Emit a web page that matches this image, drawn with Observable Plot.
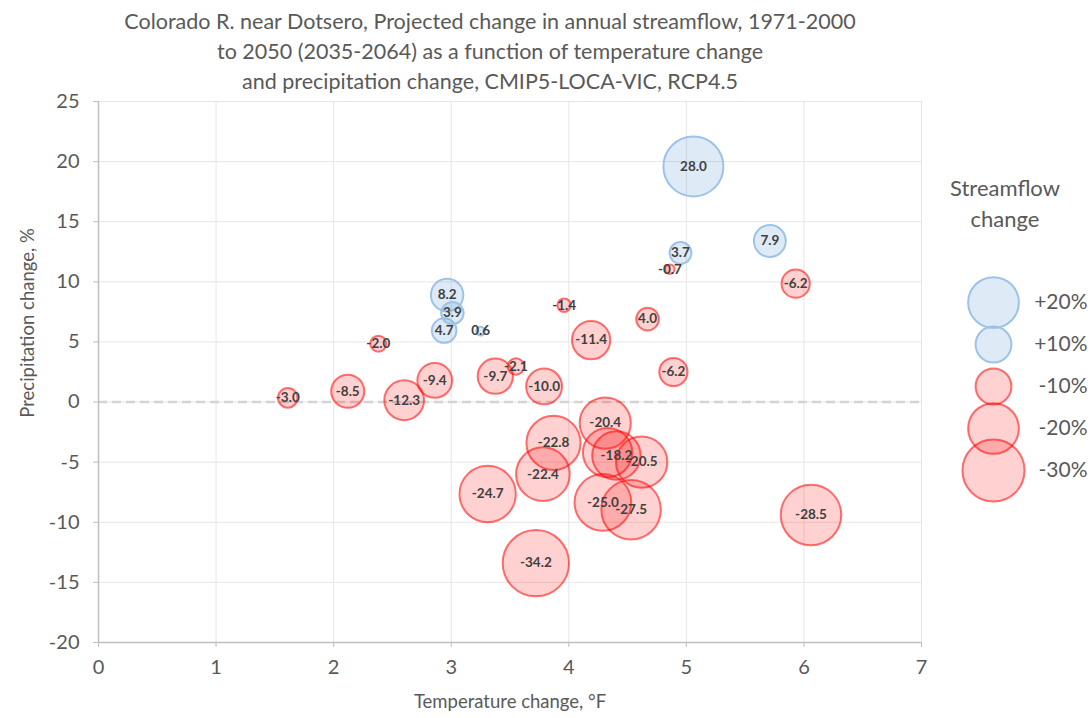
<!DOCTYPE html>
<html>
<head>
<meta charset="utf-8">
<script src="https://cdn.jsdelivr.net/npm/d3@7"></script>
<script src="https://cdn.jsdelivr.net/npm/@observablehq/plot@0.6"></script>
<style>
  html, body { margin: 0; padding: 0; background: #fff; }
  #wrap { position: relative; width: 1091px; height: 718px; font-family: Lato, "Open Sans", sans-serif; color: #595959; overflow: hidden; }
  #title { position: absolute; left: 0; top: 6px; width: 980px; text-align: center; font-size: 21.5px; line-height: 30px; }
  #chart { position: absolute; left: 0; top: 70px; }
  #ylabel { position: absolute; left: -123px; top: 311px; width: 300px; height: 24px; line-height: 24px; text-align: center; font-size: 18.5px; transform: rotate(-90deg); }
  #legtitle { position: absolute; left: 925px; top: 172px; width: 160px; text-align: center; font-size: 22px; line-height: 31px; }
  #legend { position: absolute; left: 930px; top: 230px; }
</style>
</head>
<body>
<div id="wrap">
  <div id="title">Colorado R. near Dotsero, Projected change in annual streamflow, 1971-2000<br>to 2050 (2035-2064) as a function of temperature change<br>and precipitation change, CMIP5-LOCA-VIC, RCP4.5</div>
  <div id="chart"></div>
  <div id="ylabel">Precipitation change, %</div>
  <div id="legtitle">Streamflow<br>change</div>
  <div id="legend"></div>
</div>
<script>
// Temperature change (°F)
const tempChange = [5.06, 5.71, 4.95, 4.86, 5.93, 2.965, 3.01, 2.94, 3.25, 2.38, 3.96, 4.19, 4.67, 3.55, 3.375, 3.79, 2.86, 2.60, 2.12, 1.61, 4.89, 4.31, 3.87, 4.33, 4.405, 4.62, 3.78, 3.31, 4.29, 4.53, 3.72, 6.06];
// Precipitation change (%)
const precipChange = [19.6, 13.4, 12.4, 11.05, 9.85, 8.9, 7.4, 5.95, 5.9, 4.85, 8.05, 5.15, 6.9, 2.95, 2.15, 1.3, 1.8, 0.15, 0.9, 0.35, 2.5, -1.75, -3.4, -4.2, -4.45, -5.0, -6.0, -7.65, -8.35, -8.95, -13.4, -9.4];
// Streamflow change (%)
const flowChange = [28.0, 7.9, 3.7, -0.7, -6.2, 8.2, 3.9, 4.7, 0.6, -2.0, -1.4, -11.4, -4.0, -2.1, -9.7, -10.0, -9.4, -12.3, -8.5, -3.0, -6.2, -20.4, -22.8, -18.9, -18.2, -20.5, -22.4, -24.7, -25.0, -27.5, -34.2, -28.5];
// Bubble labels as shown
const flowLabels = ["28.0", "7.9", "3.7", "-0.7", "-6.2", "8.2", "3.9", "4.7", "0.6", "-2.0", "-1.4", "-11.4", "4.0", "-2.1", "-9.7", "-10.0", "-9.4", "-12.3", "-8.5", "-3.0", "-6.2", "-20.4", "-22.8", "", "-18.2", "-20.5", "-22.4", "-24.7", "-25.0", "-27.5", "-34.2", "-28.5"];

const xTicks = [0, 1, 2, 3, 4, 5, 6, 7];
const yTicks = [-20, -15, -10, -5, 0, 5, 10, 15, 20, 25];

const legendValues = [20, 10, -10, -20, -30];
const legendLabels = ["+20%", "+10%", "-10%", "-20%", "-30%"];

const data = tempChange.map((t, i) => ({t, p: precipChange[i], s: flowChange[i], label: flowLabels[i], a: Math.abs(flowChange[i])}));
const pos = data.filter(d => d.s > 0);
const neg = data.filter(d => d.s <= 0);

const rScale = {type: "sqrt", domain: [0, 28], range: [0, 30]};
const font = "Lato, 'Open Sans', sans-serif";
const blue = {fill: "#5b9bd5", fillOpacity: 0.2, stroke: "#9dc3e6", strokeWidth: 2};
const red = {fill: "#ff0000", fillOpacity: 0.18, stroke: "#ff0000", strokeOpacity: 0.55, strokeWidth: 2};

const chart = Plot.plot({
  width: 1091, height: 648,
  marginLeft: 98, marginRight: 170, marginTop: 31, marginBottom: 76,
  style: {fontFamily: font, background: "transparent"},
  x: {domain: [0, 7]},
  y: {domain: [-20, 25]},
  r: rScale,
  marks: [
    Plot.gridX(xTicks, {stroke: "#e6e6e6", strokeOpacity: 1}),
    Plot.gridY(yTicks, {stroke: "#e6e6e6", strokeOpacity: 1}),
    Plot.ruleY([0], {stroke: "#d4d4d4", strokeWidth: 2.5, strokeDasharray: "9,5"}),
    Plot.ruleX([0], {stroke: "#bfbfbf", strokeWidth: 1.5}),
    Plot.ruleY([-20], {stroke: "#bfbfbf", strokeWidth: 1.5}),
    Plot.axisX({ticks: xTicks, tickSize: 5, tickPadding: 12, fontSize: 20, stroke: "#bfbfbf", fill: "#595959", label: null, tickFormat: d => String(d)}),
    Plot.axisY({ticks: yTicks, tickSize: 5, tickPadding: 14, fontSize: 20, stroke: "#bfbfbf", fill: "#595959", label: null, tickFormat: d => String(d)}),
    Plot.dot(neg, {x: "t", y: "p", r: "a", ...red}),
    Plot.dot(pos, {x: "t", y: "p", r: "a", ...blue}),
    Plot.text(data, {x: "t", y: "p", text: "label", fontSize: 13.5, fontWeight: "bold", fill: "#404040"}),
    Plot.text(["Temperature change, °F"], {frameAnchor: "bottom", dy: 65, fontSize: 18.5, fill: "#595959"})
  ]
});
document.getElementById("chart").appendChild(chart);

const legendData = legendValues.map((v, i) => ({v, a: Math.abs(v), label: legendLabels[i]}));
const legend = Plot.plot({
  width: 161, height: 300,
  margin: 0,
  style: {fontFamily: font, background: "transparent"},
  y: {type: "point", domain: legendLabels, range: [50, 262], axis: null},
  r: rScale,
  marks: [
    Plot.dot(legendData.filter(d => d.v < 0), {y: "label", r: "a", frameAnchor: "left", dx: 63, ...red}),
    Plot.dot(legendData.filter(d => d.v > 0), {y: "label", r: "a", frameAnchor: "left", dx: 63, ...blue}),
    Plot.text(legendData, {y: "label", text: "label", frameAnchor: "right", dx: -4, textAnchor: "end", fontSize: 21, fill: "#595959"})
  ]
});
document.getElementById("legend").appendChild(legend);
</script>
</body>
</html>
